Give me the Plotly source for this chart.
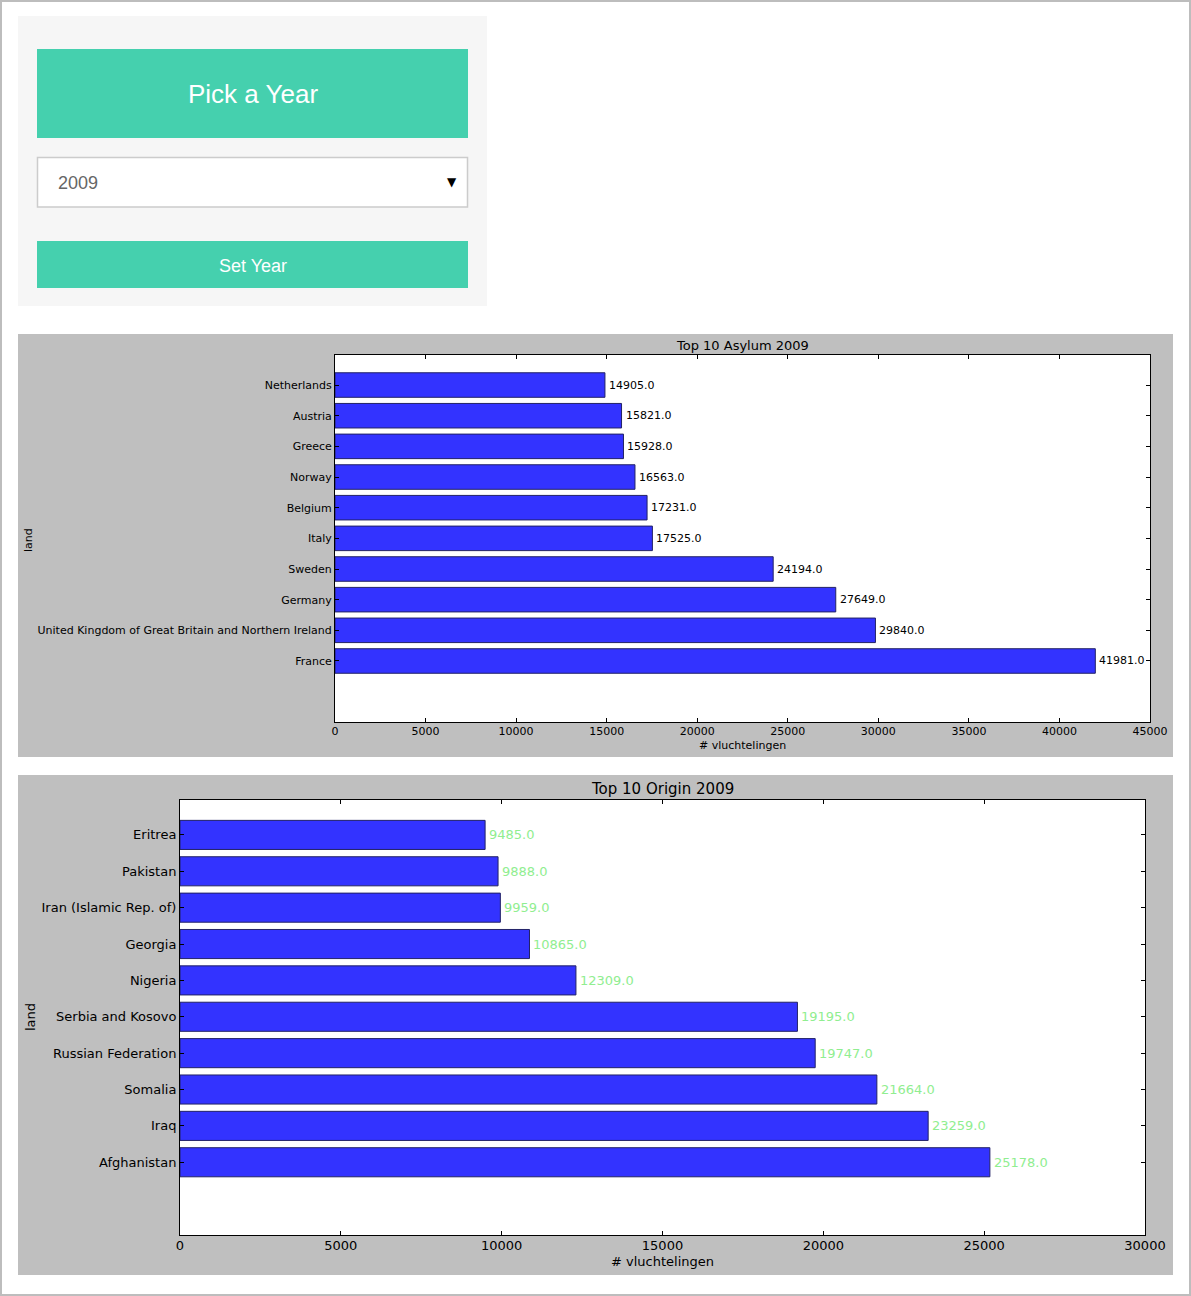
import plotly.graph_objects as go

W, H = 1191, 1296

# ---- data ----
asylum_countries = ["France", "United Kingdom of Great Britain and Northern Ireland", "Germany",
                    "Sweden", "Italy", "Belgium", "Norway", "Greece", "Austria", "Netherlands"]
asylum_values = [41981, 29840, 27649, 24194, 17525, 17231, 16563, 15928, 15821, 14905]

origin_countries = ["Afghanistan", "Iraq", "Somalia", "Russian Federation", "Serbia and Kosovo",
                    "Nigeria", "Georgia", "Iran (Islamic Rep. of)", "Pakistan", "Eritrea"]
origin_values = [25178, 23259, 21664, 19747, 19195, 12309, 10865, 9959, 9888, 9485]

year = "2009"
asylum_ticks = [0, 5000, 10000, 15000, 20000, 25000, 30000, 35000, 40000, 45000]
origin_ticks = [0, 5000, 10000, 15000, 20000, 25000, 30000]


def fx(x):
    return x / W


def fy(y):
    return 1 - y / H


BAR = "rgb(51,51,255)"
FONT = "DejaVu Sans"
UI_FONT = "Liberation Sans"

fig = go.Figure()

fig.add_trace(go.Bar(
    y=asylum_countries, x=asylum_values, orientation="h", width=0.8,
    marker=dict(color=BAR, line=dict(color="#222266", width=1)),
    xaxis="x", yaxis="y", showlegend=False, hoverinfo="x+y"))

fig.add_trace(go.Bar(
    y=origin_countries, x=origin_values, orientation="h", width=0.8,
    marker=dict(color=BAR, line=dict(color="#222266", width=1)),
    xaxis="x2", yaxis="y2", showlegend=False, hoverinfo="x+y"))

shapes = []
annotations = []

# page border
shapes.append(dict(type="rect", xref="paper", yref="paper", x0=fx(1), x1=fx(1190), y0=fy(1295), y1=fy(1),
                   line=dict(color="#bdbdbd", width=2), fillcolor="rgba(0,0,0,0)", layer="below"))

# control panel
shapes.append(dict(type="rect", xref="paper", yref="paper", x0=fx(18), x1=fx(487), y0=fy(306), y1=fy(16),
                   line=dict(width=0), fillcolor="#f6f6f6", layer="below"))
shapes.append(dict(type="rect", xref="paper", yref="paper", x0=fx(37), x1=fx(468), y0=fy(138), y1=fy(49),
                   line=dict(width=0), fillcolor="#45d0ae", layer="below"))
shapes.append(dict(type="rect", xref="paper", yref="paper", x0=fx(37.5), x1=fx(467.5), y0=fy(207), y1=fy(157.5),
                   line=dict(color="#cccccc", width=1.5), fillcolor="#ffffff", layer="below"))
shapes.append(dict(type="rect", xref="paper", yref="paper", x0=fx(37), x1=fx(468), y0=fy(288), y1=fy(241),
                   line=dict(width=0), fillcolor="#45d0ae", layer="below"))

annotations.append(dict(text="Pick a Year", xref="paper", yref="paper", x=fx(253), y=fy(94),
                        showarrow=False, xanchor="center", yanchor="middle",
                        font=dict(family=UI_FONT, size=26, color="white")))
annotations.append(dict(text=year, xref="paper", yref="paper", x=fx(56), y=fy(183),
                        showarrow=False, xanchor="left", yanchor="middle",
                        font=dict(family=UI_FONT, size=18, color="#666666")))
annotations.append(dict(text="▼", xref="paper", yref="paper", x=fx(452), y=fy(182),
                        showarrow=False, xanchor="center", yanchor="middle",
                        font=dict(family="DejaVu Sans", size=12, color="black")))
annotations.append(dict(text="Set Year", xref="paper", yref="paper", x=fx(253), y=fy(266),
                        showarrow=False, xanchor="center", yanchor="middle",
                        font=dict(family=UI_FONT, size=18, color="white")))

# chart backgrounds
shapes.append(dict(type="rect", xref="paper", yref="paper", x0=fx(18), x1=fx(1173), y0=fy(757), y1=fy(334),
                   line=dict(width=0), fillcolor="#bfbfbf", layer="below"))
shapes.append(dict(type="rect", xref="paper", yref="paper", x0=fx(18), x1=fx(1173), y0=fy(1275), y1=fy(775),
                   line=dict(width=0), fillcolor="#bfbfbf", layer="below"))
# plot area white
shapes.append(dict(type="rect", xref="paper", yref="paper", x0=fx(335), x1=fx(1150), y0=fy(722), y1=fy(355),
                   line=dict(width=0), fillcolor="white", layer="below"))
shapes.append(dict(type="rect", xref="paper", yref="paper", x0=fx(180), x1=fx(1145), y0=fy(1235), y1=fy(800),
                   line=dict(width=0), fillcolor="white", layer="below"))

# titles / axis labels
annotations.append(dict(text=f"Top 10 Asylum {year}", xref="paper", yref="paper", x=fx(742.5), y=fy(346),
                        showarrow=False, xanchor="center", yanchor="middle",
                        font=dict(family=FONT, size=13, color="black")))
annotations.append(dict(text="# vluchtelingen", xref="paper", yref="paper", x=fx(742.5), y=fy(745),
                        showarrow=False, xanchor="center", yanchor="middle",
                        font=dict(family=FONT, size=11, color="black")))
annotations.append(dict(text="land", xref="paper", yref="paper", x=fx(28), y=fy(540), textangle=-90,
                        showarrow=False, xanchor="center", yanchor="middle",
                        font=dict(family=FONT, size=11, color="black")))

annotations.append(dict(text=f"Top 10 Origin {year}", xref="paper", yref="paper", x=fx(662.5), y=fy(789),
                        showarrow=False, xanchor="center", yanchor="middle",
                        font=dict(family=FONT, size=15, color="black")))
annotations.append(dict(text="# vluchtelingen", xref="paper", yref="paper", x=fx(662.5), y=fy(1261),
                        showarrow=False, xanchor="center", yanchor="middle",
                        font=dict(family=FONT, size=13, color="black")))
annotations.append(dict(text="land", xref="paper", yref="paper", x=fx(30), y=fy(1017), textangle=-90,
                        showarrow=False, xanchor="center", yanchor="middle",
                        font=dict(family=FONT, size=13, color="black")))

# value labels
for c, v in zip(asylum_countries, asylum_values):
    annotations.append(dict(text=f"{v:.1f}", xref="x", yref="y", x=v, y=c, xshift=2,
                            showarrow=False, xanchor="left", yanchor="middle",
                            font=dict(family=FONT, size=11, color="black")))
for c, v in zip(origin_countries, origin_values):
    annotations.append(dict(text=f"{v:.1f}", xref="x2", yref="y2", x=v, y=c, xshift=2,
                            showarrow=False, xanchor="left", yanchor="middle",
                            font=dict(family=FONT, size=13, color="#90ee90")))

axis_common = dict(showgrid=False, zeroline=False, showline=True, linecolor="black", linewidth=1,
                   mirror="ticks", ticks="inside", ticklen=4, tickcolor="black", fixedrange=True,
                   automargin=False)

fig.update_layout(
    template="none",
    width=W, height=H, autosize=False,
    margin=dict(l=0, r=0, t=0, b=0, pad=0, autoexpand=False),
    paper_bgcolor="white", plot_bgcolor="white",
    bargap=0.2,
    xaxis=dict(domain=[fx(335), fx(1150)], anchor="y", range=[0, 45000], tickvals=asylum_ticks,
               tickformat="d", ticklabelstandoff=-1,
               tickfont=dict(family=FONT, size=11, color="black"), **axis_common),
    yaxis=dict(domain=[fy(722), fy(355)], anchor="x", type="category", categoryorder="array",
               categoryarray=asylum_countries, range=[-1.99, 9.98],
               tickfont=dict(family=FONT, size=11, color="black"), **axis_common),
    xaxis2=dict(domain=[fx(180), fx(1145)], anchor="y2", range=[0, 30000], tickvals=origin_ticks,
                tickformat="d", ticklabelstandoff=-2,
                tickfont=dict(family=FONT, size=13, color="black"), **axis_common),
    yaxis2=dict(domain=[fy(1235), fy(800)], anchor="x2", type="category", categoryorder="array",
                categoryarray=origin_countries, range=[-2.0, 9.96],
                tickfont=dict(family=FONT, size=13, color="black"), **axis_common),
    shapes=shapes, annotations=annotations,
)

fig.write_html("out.html")
